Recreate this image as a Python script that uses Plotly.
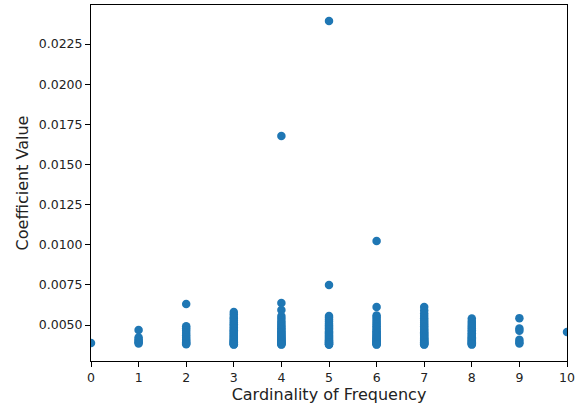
import plotly.graph_objects as go

x0 = [0.00388]
x1 = [0.00469, 0.00422, 0.00410, 0.00400, 0.00392, 0.00385]
x2 = [0.00631, 0.00492, 0.00480, 0.00466, 0.00450, 0.00436, 0.00422, 0.00410, 0.00400, 0.00392, 0.00385, 0.00380]
x3 = [0.00581, 0.00565, 0.00550, 0.00540, 0.00528, 0.00515, 0.00505, 0.00495, 0.00485, 0.00476,
      0.00468, 0.00460, 0.00452, 0.00445, 0.00438, 0.00431, 0.00425, 0.00419, 0.00413, 0.00407,
      0.00402, 0.00397, 0.00392, 0.00388, 0.00384, 0.00380, 0.00378]
x4 = [0.01677, 0.00637, 0.00593, 0.00556, 0.00540, 0.00525, 0.00512, 0.00500, 0.00490, 0.00480,
      0.00471, 0.00462, 0.00454, 0.00446, 0.00439, 0.00432, 0.00426, 0.00420, 0.00414, 0.00408,
      0.00403, 0.00398, 0.00393, 0.00389, 0.00385, 0.00381, 0.00378]
x5 = [0.02393, 0.00749, 0.00556, 0.00545, 0.00533, 0.00520, 0.00508, 0.00497, 0.00487, 0.00478,
      0.00469, 0.00460, 0.00452, 0.00445, 0.00438, 0.00431, 0.00425, 0.00419, 0.00413, 0.00407,
      0.00402, 0.00397, 0.00392, 0.00388, 0.00384, 0.00380, 0.00377]
x6 = [0.01023, 0.00612, 0.00560, 0.00550, 0.00538, 0.00525, 0.00513, 0.00502, 0.00491, 0.00481,
      0.00471, 0.00462, 0.00454, 0.00446, 0.00439, 0.00432, 0.00426, 0.00420, 0.00414, 0.00408,
      0.00403, 0.00398, 0.00393, 0.00389, 0.00385, 0.00381, 0.00378]
x7 = [0.00612, 0.00590, 0.00572, 0.00556, 0.00542, 0.00528, 0.00515, 0.00503, 0.00492, 0.00482,
      0.00472, 0.00463, 0.00455, 0.00447, 0.00440, 0.00433, 0.00426, 0.00420, 0.00414, 0.00408,
      0.00403, 0.00398, 0.00393, 0.00389, 0.00385, 0.00381, 0.00378]
x8 = [0.00540, 0.00525, 0.00512, 0.00500, 0.00489, 0.00478, 0.00468, 0.00458, 0.00449, 0.00440,
      0.00432, 0.00424, 0.00417, 0.00410, 0.00404, 0.00398, 0.00392, 0.00387, 0.00382, 0.00378]
x9 = [0.00543, 0.00478, 0.00465, 0.00408, 0.00395, 0.00385]
x10 = [0.00456]

groups = [x0, x1, x2, x3, x4, x5, x6, x7, x8, x9, x10]
xs, ys = [], []
for card, vals in enumerate(groups):
    xs += [card] * len(vals)
    ys += vals

fig = go.Figure(go.Scatter(
    x=xs, y=ys, mode="markers",
    marker=dict(color="#1f77b4", size=8.5, line=dict(width=0)),
    cliponaxis=True,
))

axis_common = dict(
    showline=True, linecolor="black", linewidth=1, mirror=True,
    ticks="outside", ticklen=5, tickwidth=1, tickcolor="black",
    showgrid=False, zeroline=False, automargin=False,
    tickfont=dict(family="DejaVu Sans", size=12.5, color="#222222"),
)

fig.update_layout(
    width=576, height=408,
    margin=dict(l=91, r=9, t=5, b=47),
    paper_bgcolor="white", plot_bgcolor="white",
    showlegend=False,
    xaxis=dict(range=[0, 10], tickmode="linear", tick0=0, dtick=1,
               title=dict(text="Cardinality of Frequency", standoff=2,
                          font=dict(family="DejaVu Sans", size=16, color="#222222")),
               **axis_common),
    yaxis=dict(range=[0.00276, 0.02493], tickmode="linear", tick0=0.005, dtick=0.0025,
               tickformat=".4f",
               title=dict(text="Coefficient Value", standoff=6,
                          font=dict(family="DejaVu Sans", size=16, color="#222222")),
               **axis_common),
)

fig.write_html("out.html", config={"displayModeBar": False},
               post_script="document.body.style.margin='0';")
